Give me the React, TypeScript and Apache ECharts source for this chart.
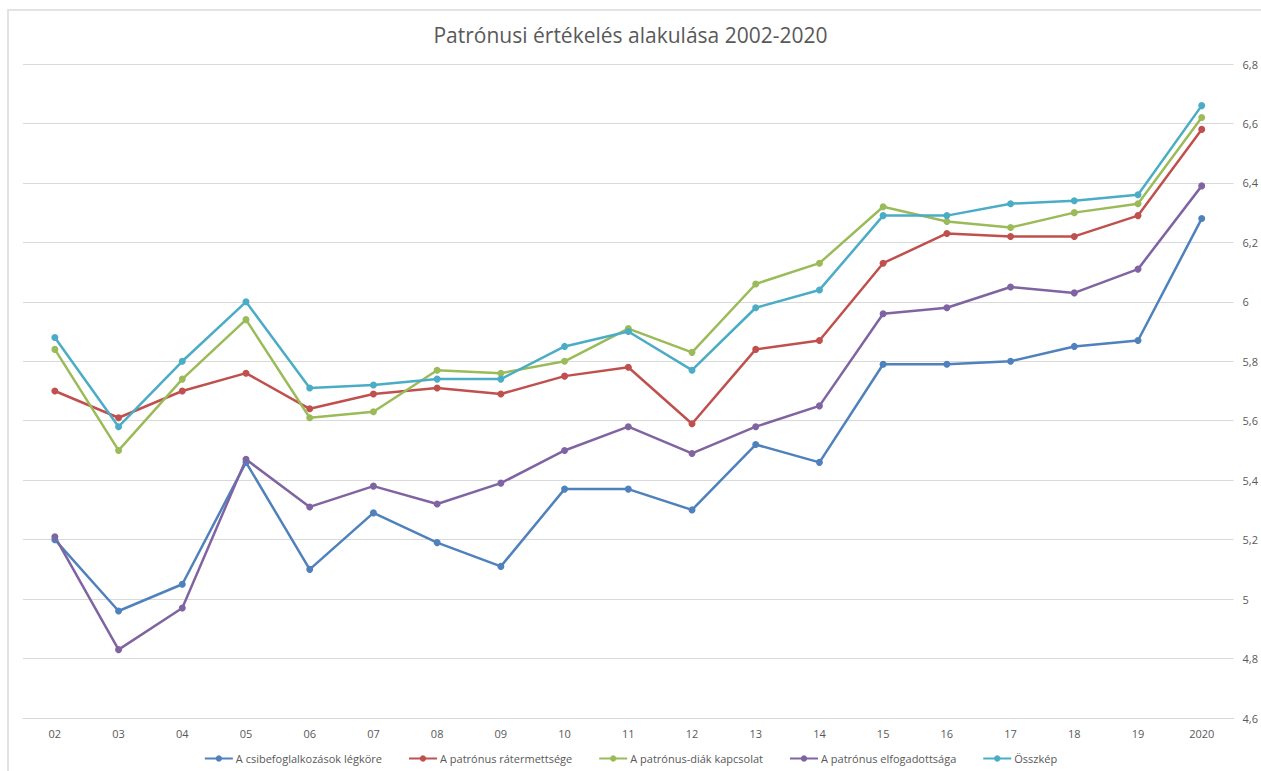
import React, { useEffect, useRef } from "react";
import * as echarts from "echarts";

const categories = ["02", "03", "04", "05", "06", "07", "08", "09", "10", "11", "12", "13", "14", "15", "16", "17", "18", "19", "2020"];

const legkore = [5.2, 4.96, 5.05, 5.46, 5.1, 5.29, 5.19, 5.11, 5.37, 5.37, 5.3, 5.52, 5.46, 5.79, 5.79, 5.8, 5.85, 5.87, 6.28];
const ratermettsege = [5.7, 5.61, 5.7, 5.76, 5.64, 5.69, 5.71, 5.69, 5.75, 5.78, 5.59, 5.84, 5.87, 6.13, 6.23, 6.22, 6.22, 6.29, 6.58];
const kapcsolat = [5.84, 5.5, 5.74, 5.94, 5.61, 5.63, 5.77, 5.76, 5.8, 5.91, 5.83, 6.06, 6.13, 6.32, 6.27, 6.25, 6.3, 6.33, 6.62];
const elfogadottsaga = [5.21, 4.83, 4.97, 5.47, 5.31, 5.38, 5.32, 5.39, 5.5, 5.58, 5.49, 5.58, 5.65, 5.96, 5.98, 6.05, 6.03, 6.11, 6.39];
const osszkep = [5.88, 5.58, 5.8, 6.0, 5.71, 5.72, 5.74, 5.74, 5.85, 5.9, 5.77, 5.98, 6.04, 6.29, 6.29, 6.33, 6.34, 6.36, 6.66];

const seriesNames = [
  "A csibefoglalkozások légköre",
  "A patrónus rátermettsége",
  "A patrónus-diák kapcsolat",
  "A patrónus elfogadottsága",
  "Összkép",
];
const seriesData = [legkore, ratermettsege, kapcsolat, elfogadottsaga, osszkep];
const colors = ["#4F81BD", "#C0504D", "#9BBB59", "#8064A2", "#4BACC6"];

const FONT = "'Open Sans', 'Liberation Sans', sans-serif";

export default function App() {
  const ref = useRef<HTMLDivElement>(null);
  useEffect(() => {
    if (!ref.current) return;
    const chart = echarts.init(ref.current, undefined, { renderer: "svg" });
    chart.setOption({
      animation: false,
      backgroundColor: "#ffffff",
      color: colors,
      title: {
        text: "Patrónusi értékelés alakulása 2002-2020",
        left: "center",
        top: 19,
        textStyle: { fontFamily: FONT, fontSize: 21, fontWeight: "normal", color: "#595959" },
      },
      graphic: [
        { type: "line", shape: { x1: 7, y1: 10, x2: 1261, y2: 10 }, style: { stroke: "#e3e3e3", lineWidth: 2 } },
        { type: "line", shape: { x1: 8, y1: 10, x2: 8, y2: 771 }, style: { stroke: "#e3e3e3", lineWidth: 2 } },
      ],
      grid: { left: 23, right: 27, top: 64, bottom: 53, containLabel: false },
      legend: {
        bottom: 2,
        left: "center",
        itemWidth: 28,
        itemHeight: 8,
        itemGap: 26,
        textStyle: { fontFamily: FONT, fontSize: 11, color: "#595959", padding: [0, 0, 0, -2] },
        data: seriesNames.map((n) => ({ name: n })),
      },
      xAxis: {
        type: "category",
        data: categories,
        boundaryGap: true,
        axisLine: { show: true, lineStyle: { color: "#d9d9d9", width: 1 } },
        axisTick: { show: false },
        axisLabel: { fontFamily: FONT, fontSize: 11, color: "#595959", margin: 10 },
      },
      yAxis: {
        type: "value",
        position: "right",
        min: 4.6,
        max: 6.8,
        interval: 0.2,
        axisLine: { show: false },
        axisTick: { show: false },
        splitLine: { lineStyle: { color: "#d9d9d9", width: 1 } },
        axisLabel: {
          fontFamily: FONT,
          fontSize: 11,
          color: "#595959",
          margin: 9,
          formatter: (v: number) => String(Number(v.toFixed(1))).replace(".", ","),
        },
      },
      series: seriesNames.map((name, i) => ({
        name,
        type: "line",
        data: seriesData[i],
        symbol: "circle",
        symbolSize: 7,
        lineStyle: { width: 2.5, color: colors[i] },
        itemStyle: { color: colors[i] },
      })),
    });
    return () => chart.dispose();
  }, []);
  return (
    <div
      ref={ref}
      style={{ position: "fixed", left: 0, top: 0, width: 1261, height: 771 }}
    />
  );
}
